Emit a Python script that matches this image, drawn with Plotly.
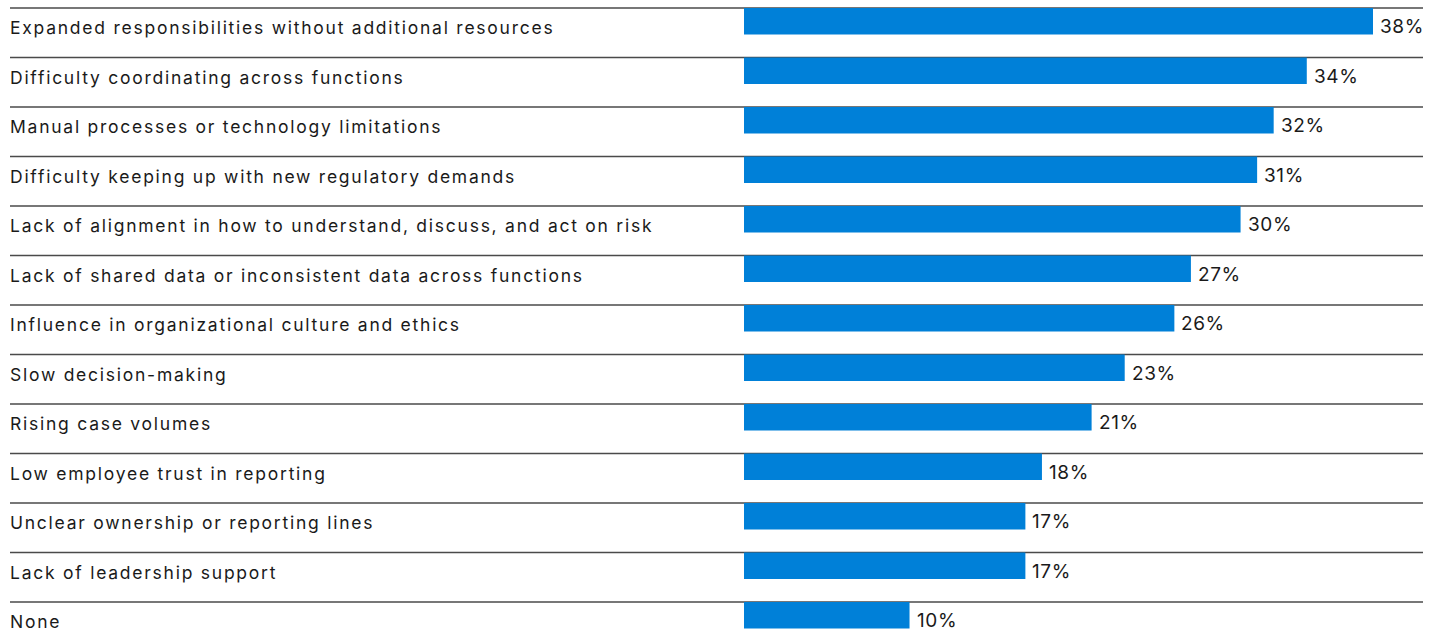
import plotly.graph_objects as go

categories = [
    "Expanded responsibilities without additional resources",
    "Difficulty coordinating across functions",
    "Manual processes or technology limitations",
    "Difficulty keeping up with new regulatory demands",
    "Lack of alignment in how to understand, discuss, and act on risk",
    "Lack of shared data or inconsistent data across functions",
    "Influence in organizational culture and ethics",
    "Slow decision-making",
    "Rising case volumes",
    "Low employee trust in reporting",
    "Unclear ownership or reporting lines",
    "Lack of leadership support",
    "None",
]
values = [38, 34, 32, 31, 30, 27, 26, 23, 21, 18, 17, 17, 10]
value_labels = [f"{v}%" for v in values]

W, H = 1442, 632
ROW = 49.5          # pixel pitch of each row
TOP = 8             # pixel position of the first rule
X0 = 744            # pixel where bars start
PX_PER_UNIT = (1373 - X0) / 38

FONT = "Inter"
BLUE = "#0080D8"
TEXT = "#1a1a1a"

rows = list(range(len(categories)))

fig = go.Figure()
fig.add_trace(go.Bar(
    x=values,
    y=rows,
    orientation="h",
    width=0.535,
    offset=0,
    marker=dict(color=BLUE, line=dict(width=0)),
    hoverinfo="skip",
))

# horizontal rules above each row
for r in rows:
    fig.add_shape(type="line", xref="paper", yref="y",
                  x0=10 / W, x1=1423 / W, y0=r, y1=r,
                  line=dict(color="#4a4a4a", width=1.3), layer="below")

# category labels (slightly tracked out)
for r, c in zip(rows, categories):
    fig.add_annotation(x=8 / W, xref="paper", y=r + 0.40, yref="y",
                       text=f'<span style="letter-spacing:1.75px">{c}</span>',
                       showarrow=False, xanchor="left", yanchor="middle",
                       font=dict(family=FONT, size=17.5, color=TEXT))

# value labels
for r, v, t in zip(rows, values, value_labels):
    fig.add_annotation(x=v, y=r + 0.38, xref="x", yref="y",
                       text=f'<span style="letter-spacing:0.6px">{t}</span>',
                       showarrow=False, xanchor="left", yanchor="middle",
                       xshift=5,
                       font=dict(family=FONT, size=19, color=TEXT))

x_left = -X0 / PX_PER_UNIT
x_right = (W - X0) / PX_PER_UNIT
y_top = -TOP / ROW
y_bottom = (H - TOP) / ROW

fig.update_xaxes(range=[x_left, x_right], visible=False, fixedrange=True)
fig.update_yaxes(range=[y_bottom, y_top], visible=False, fixedrange=True)
fig.update_layout(
    width=W, height=H,
    margin=dict(l=0, r=0, t=0, b=0),
    paper_bgcolor="white", plot_bgcolor="white",
    showlegend=False,
    font=dict(family=FONT),
)

fig.write_html("out.html", config={"displayModeBar": False})
